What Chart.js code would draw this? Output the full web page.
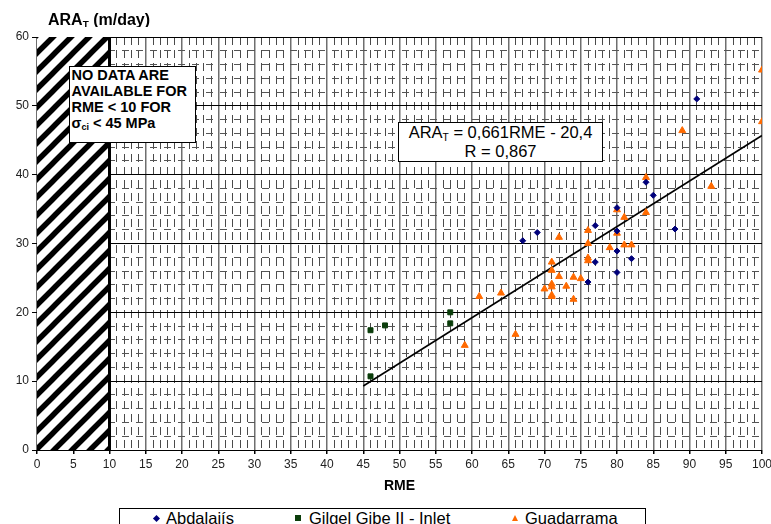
<!DOCTYPE html>
<html>
<head>
<meta charset="utf-8">
<script src="https://cdn.jsdelivr.net/npm/chart.js@4.4.1/dist/chart.umd.min.js"></script>
<style>
html,body{margin:0;padding:0;background:#fff;width:771px;height:524px;overflow:hidden;font-family:"Liberation Sans",Arial,sans-serif;}
#wrap{position:relative;width:771px;height:524px;}
#c{position:absolute;left:0;top:0;}
.ov{position:absolute;color:#000;white-space:nowrap;}
#ytitle{left:48px;top:11px;height:16px;overflow:hidden;font-weight:bold;font-size:16px;line-height:18px;}
#ytitle sub,#eq sub,#note sub{font-size:0.62em;vertical-align:-0.25em;line-height:0;}
#note{left:69px;top:66px;width:127px;height:77px;box-sizing:border-box;border:1.5px solid #000;background:#fff;font-weight:bold;font-size:14.5px;line-height:16px;padding:0 0 0 1.5px;}
#eq{left:398px;top:122px;width:205px;height:40px;box-sizing:border-box;border:1px solid #000;background:#fff;font-size:16.5px;line-height:18.5px;text-align:center;padding-top:0;}
#legend{position:absolute;left:119px;top:508px;width:527px;height:30px;box-sizing:border-box;border:1px solid #000;background:#fff;}
.lt{position:absolute;top:0px;font-size:16.5px;line-height:19px;color:#000;white-space:nowrap;}
.mk{position:absolute;}
</style>
</head>
<body>
<div id="wrap">
<canvas id="c" width="771" height="500"></canvas>
<div id="ytitle" class="ov">ARA<sub>T</sub> (m/day)</div>
<div id="note" class="ov">NO DATA ARE<br>AVAILABLE FOR<br>RME &lt; 10 FOR<br>σ<sub>ci</sub> &lt; 45 MPa</div>
<div id="eq" class="ov">ARA<sub>T</sub> = 0,661RME - 20,4<br>R = 0,867</div>
<div id="legend"></div>
</div>
<script>
// ---- data ----
const seriesNames = ['Abdalajís', 'Gilgel Gibe II - Inlet', 'Guadarrama'];
const abdalajisRME = [91, 84, 85, 80, 88, 80, 80, 82, 80, 77, 69, 67, 77, 76];
const abdalajisARA = [51.0, 38.9, 37.0, 35.2, 32.1, 31.8, 28.9, 27.8, 25.8, 32.6, 31.6, 30.4, 27.3, 24.4];
const gilgelRME = [46, 48, 46, 57, 57];
const gilgelARA = [17.4, 18.1, 10.7, 20.0, 18.4];
const guadRME = [100, 100, 89, 84, 93, 84, 80, 81, 80, 81, 82, 79, 76, 72, 76, 76, 76, 71, 71, 72, 74, 75, 71, 71, 73, 70, 71, 71, 74, 64, 61, 66, 59];
const guadARA = [55.2, 47.7, 46.4, 39.6, 38.3, 34.5, 34.9, 33.8, 31.5, 29.8, 29.8, 29.4, 31.9, 30.9, 30.0, 27.9, 27.5, 27.3, 26.1, 25.2, 25.1, 24.9, 24.1, 23.7, 23.8, 23.4, 22.5, 22.3, 21.9, 22.8, 22.3, 16.8, 15.2];
const fitRME = [45, 100];
const fitARA = [9.3, 45.7];
const noDataRME = [0, 10];
const noDataARA = [60, 60];
const xRange = [0, 100];
const yRange = [0, 60];
const xLabelStep = 5;
const yLabelStep = 10;

const colors = ['#00007a', '#0b3d0b', '#ff6a00'];
const styles = ['rectRot', 'rect', 'triangle'];
const radii = [3, 3.5, 4];

const pts = (xs, ys) => xs.map((x, i) => ({x: x, y: ys[i]}));

// hatch pattern
const hatch = (() => {
  const c = document.createElement('canvas');
  c.width = 18; c.height = 18;
  const g = c.getContext('2d');
  g.fillStyle = '#fff'; g.fillRect(0, 0, 18, 18);
  g.strokeStyle = '#000'; g.lineWidth = 5.5;
  g.beginPath();
  g.moveTo(-4, 22); g.lineTo(22, -4);
  g.moveTo(-13, 13); g.lineTo(13, -13);
  g.moveTo(5, 31); g.lineTo(31, 5);
  g.stroke();
  return g.createPattern(c, 'repeat');
})();

Chart.defaults.font.family = '"Liberation Sans", Arial, sans-serif';

const series = [[abdalajisRME, abdalajisARA], [gilgelRME, gilgelARA], [guadRME, guadARA]];
const scatterSets = series.map((s, i) => ({
  type: 'scatter',
  label: seriesNames[i],
  data: pts(s[0], s[1]),
  pointStyle: styles[i],
  pointRadius: radii[i],
  backgroundColor: colors[i],
  borderColor: colors[i],
  borderWidth: 1
}));

new Chart(document.getElementById('c'), {
  type: 'scatter',
  data: {
    datasets: [
      ...scatterSets,
      {type: 'line', label: 'fit', data: pts(fitRME, fitARA), showLine: true, borderColor: '#000', borderWidth: 1.6, pointRadius: 0, fill: false},
      {type: 'line', label: 'edge', data: [{x: noDataRME[1], y: yRange[0]}, {x: noDataRME[1], y: noDataARA[1]}], showLine: true, borderColor: '#000', borderWidth: 3, pointRadius: 0, fill: false},
      {type: 'line', label: 'nodata', data: pts(noDataRME, noDataARA), showLine: true, borderWidth: 0, borderColor: 'rgba(0,0,0,0)', pointRadius: 0, fill: 'origin', backgroundColor: hatch}
    ]
  },
  options: {
    responsive: false,
    animation: false,
    devicePixelRatio: 1,
    layout: {padding: {top: 37, right: 9, left: 0, bottom: 0}},
    plugins: {legend: {display: false}, tooltip: {enabled: false}},
    scales: {
      x: {
        type: 'linear', min: xRange[0], max: xRange[1],
        afterFit: s => { s.height = 50; s.paddingRight = 0; s.paddingLeft = 0; },
        ticks: {
          stepSize: 1, autoSkip: false, maxRotation: 0, maxTicksLimit: 1000,
          callback: v => (v % xLabelStep === 0 ? String(v) : ''),
          font: {size: 12}, color: '#222', padding: 3
        },
        grid: {
          color: c => (c.tick && c.tick.value % xLabelStep === 0) ? '#6e6e6e' : '#4a4a4a',
          lineWidth: c => (c.tick && c.tick.value % xLabelStep === 0) ? 1.5 : 1,
          tickColor: c => (c.tick && c.tick.value % xLabelStep === 0) ? '#000' : 'rgba(0,0,0,0)',
          tickLength: 4
        },
        border: {
          display: true, color: '#000', width: 1,
          dash: c => (c.tick && c.tick.value % xLabelStep !== 0) ? [8, 5] : []
        },
        title: {display: true, text: 'RME', font: {size: 14, weight: 'bold'}, color: '#000', padding: {top: 0, bottom: 5}}
      },
      y: {
        type: 'linear', min: yRange[0], max: yRange[1],
        afterFit: s => { s.width = 37; s.paddingTop = 0; s.paddingBottom = 0; },
        ticks: {
          stepSize: 2, autoSkip: false, maxTicksLimit: 1000,
          callback: v => (v % yLabelStep === 0 ? String(v) : ''),
          font: {size: 12}, color: '#222', padding: 3
        },
        grid: {
          color: c => (c.tick && c.tick.value % yLabelStep === 0) ? '#000' : '#555',
          lineWidth: 1,
          tickColor: c => (c.tick && c.tick.value % yLabelStep === 0) ? '#000' : 'rgba(0,0,0,0)',
          tickLength: 5
        },
        border: {
          display: true, color: '#000', width: 1,
          dash: c => (c.tick && c.tick.value % yLabelStep !== 0) ? [7, 7] : []
        }
      }
    }
  }
});

// HTML legend from series names
const legend = document.getElementById('legend');
const mkX = [36, 178, 395];
const txX = [46, 189, 405];
seriesNames.forEach((name, i) => {
  const m = document.createElement('div');
  m.className = 'mk';
  if (styles[i] === 'rectRot') {
    m.style.cssText = `left:${mkX[i]-2.5}px;top:${9-2.5}px;width:5px;height:5px;background:${colors[i]};transform:rotate(45deg);`;
  } else if (styles[i] === 'rect') {
    m.style.cssText = `left:${mkX[i]-3}px;top:${9-3}px;width:6px;height:6px;background:${colors[i]};`;
  } else {
    m.style.cssText = `left:${mkX[i]-3.5}px;top:${9-3.5}px;width:0;height:0;border-left:3.5px solid transparent;border-right:3.5px solid transparent;border-bottom:6px solid ${colors[i]};`;
  }
  legend.appendChild(m);
  const t = document.createElement('div');
  t.className = 'lt';
  t.style.left = txX[i] + 'px';
  t.textContent = name;
  legend.appendChild(t);
});
</script>
</body>
</html>
